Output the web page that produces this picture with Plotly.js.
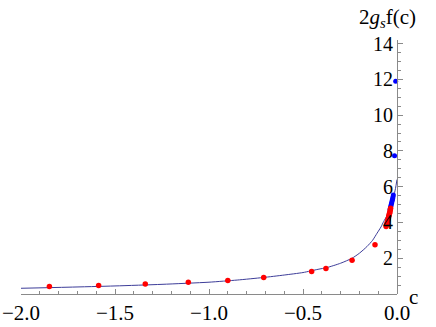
<!DOCTYPE html>
<html>
<head>
<meta charset="utf-8">
<script src="https://cdn.plot.ly/plotly-3.0.1.min.js"></script>
<style>
html,body{margin:0;padding:0;background:#fff;}
#chart{width:436px;height:327px;}
#chart text{font-family:'Liberation Serif','Times New Roman',serif !important;}
</style>
</head>
<body>
<div id="chart"></div>
<script>
// Curve f(c)
const curveX = [-2.0, -1.75, -1.5, -1.25, -1.0, -0.85, -0.713, -0.6, -0.5, -0.42, -0.372, -0.3, -0.239, -0.2, -0.16, -0.13, -0.106, -0.085, -0.071, -0.055, -0.044, -0.03, -0.018, -0.008, 0.0];
const curveY = [0.32, 0.38, 0.45, 0.54, 0.66, 0.78, 0.92, 1.06, 1.20, 1.38, 1.48, 1.72, 2.0, 2.28, 2.65, 3.0, 3.40, 3.75, 4.05, 4.35, 4.7, 5.0, 5.44, 5.9, 6.4];

// Red data points
const redX = [-1.849, -1.587, -1.339, -1.110, -0.900, -0.709, -0.454, -0.378, -0.239, -0.117,
              -0.058, -0.055, -0.052, -0.050, -0.048, -0.046, -0.044, -0.042, -0.040, -0.038, -0.036, -0.034];
const redY = [0.42, 0.48, 0.56, 0.65, 0.76, 0.92, 1.26, 1.42, 1.89, 2.75,
              3.78, 3.89, 3.99, 4.06, 4.16, 4.23, 4.33, 4.41, 4.50, 4.57, 4.68, 4.79];

// Blue data points
const blueX = [-0.037, -0.035, -0.033, -0.031, -0.029, -0.027, -0.025, -0.023, -0.0215, -0.0195, -0.013, -0.007];
const blueY = [4.72, 4.81, 4.90, 4.99, 5.07, 5.16, 5.25, 5.33, 5.42, 5.54, 7.73, 11.9];

const xTickVals = [-2.0, -1.5, -1.0, -0.5, 0.0];
const yTickVals = [2, 4, 6, 8, 10, 12, 14];

const FAM = 'Liberation Serif';
const axisColor = '#8a8a8a';

const traces = [
  {x: curveX, y: curveY, mode: 'lines', type: 'scatter',
   line: {color: '#3d3d99', width: 1, shape: 'spline', smoothing: 0.6}, hoverinfo: 'skip'},
  {x: blueX, y: blueY, mode: 'markers', type: 'scatter', cliponaxis: false,
   marker: {color: '#0000ff', size: 5}},
  {x: redX, y: redY, mode: 'markers', type: 'scatter', cliponaxis: false,
   marker: {color: '#ff0000', size: 5.5}}
];

const layout = {
  width: 436, height: 327,
  margin: {l: 21, r: 39, t: 40, b: 33, pad: 0},
  paper_bgcolor: '#fff', plot_bgcolor: '#fff',
  showlegend: false,
  font: {family: FAM, size: 20},
  xaxis: {
    range: [-2.0, 0.0], showgrid: false, zeroline: false,
    showline: true, linecolor: axisColor, linewidth: 1,
    tickmode: 'array', tickvals: xTickVals, tickformat: '.1f',
    ticks: 'inside', ticklen: 5, tickcolor: axisColor, tickwidth: 1,
    minor: {dtick: 0.1, tick0: 0, ticks: 'inside', ticklen: 3, tickcolor: axisColor, showgrid: false},
    tickfont: {family: FAM, size: 21, color: '#000'}
  },
  yaxis: {
    range: [0, 14.2], anchor: 'free', position: 1, side: 'left',
    showgrid: false, zeroline: false,
    showline: true, linecolor: axisColor, linewidth: 1,
    tickmode: 'array', tickvals: yTickVals,
    ticks: 'inside', ticklen: 5, tickcolor: axisColor, tickwidth: 1,
    minor: {dtick: 0.5, tick0: 0, ticks: 'inside', ticklen: 3, tickcolor: axisColor, showgrid: false},
    tickfont: {family: FAM, size: 20, color: '#000'}
  },
  annotations: [
    {text: 'c', xref: 'paper', yref: 'paper', x: 1.043, y: -0.012,
     xanchor: 'center', yanchor: 'middle', showarrow: false,
     font: {family: FAM, size: 21, color: '#000'}},
    {text: '2<i>g</i><sub><i>s</i></sub>f(c)', xref: 'paper', yref: 'paper', x: 0.976, y: 1.087,
     xanchor: 'center', yanchor: 'middle', showarrow: false,
     font: {family: FAM, size: 21, color: '#000'}}
  ]
};

Plotly.newPlot('chart', traces, layout, {displayModeBar: false, staticPlot: true});
</script>
</body>
</html>
